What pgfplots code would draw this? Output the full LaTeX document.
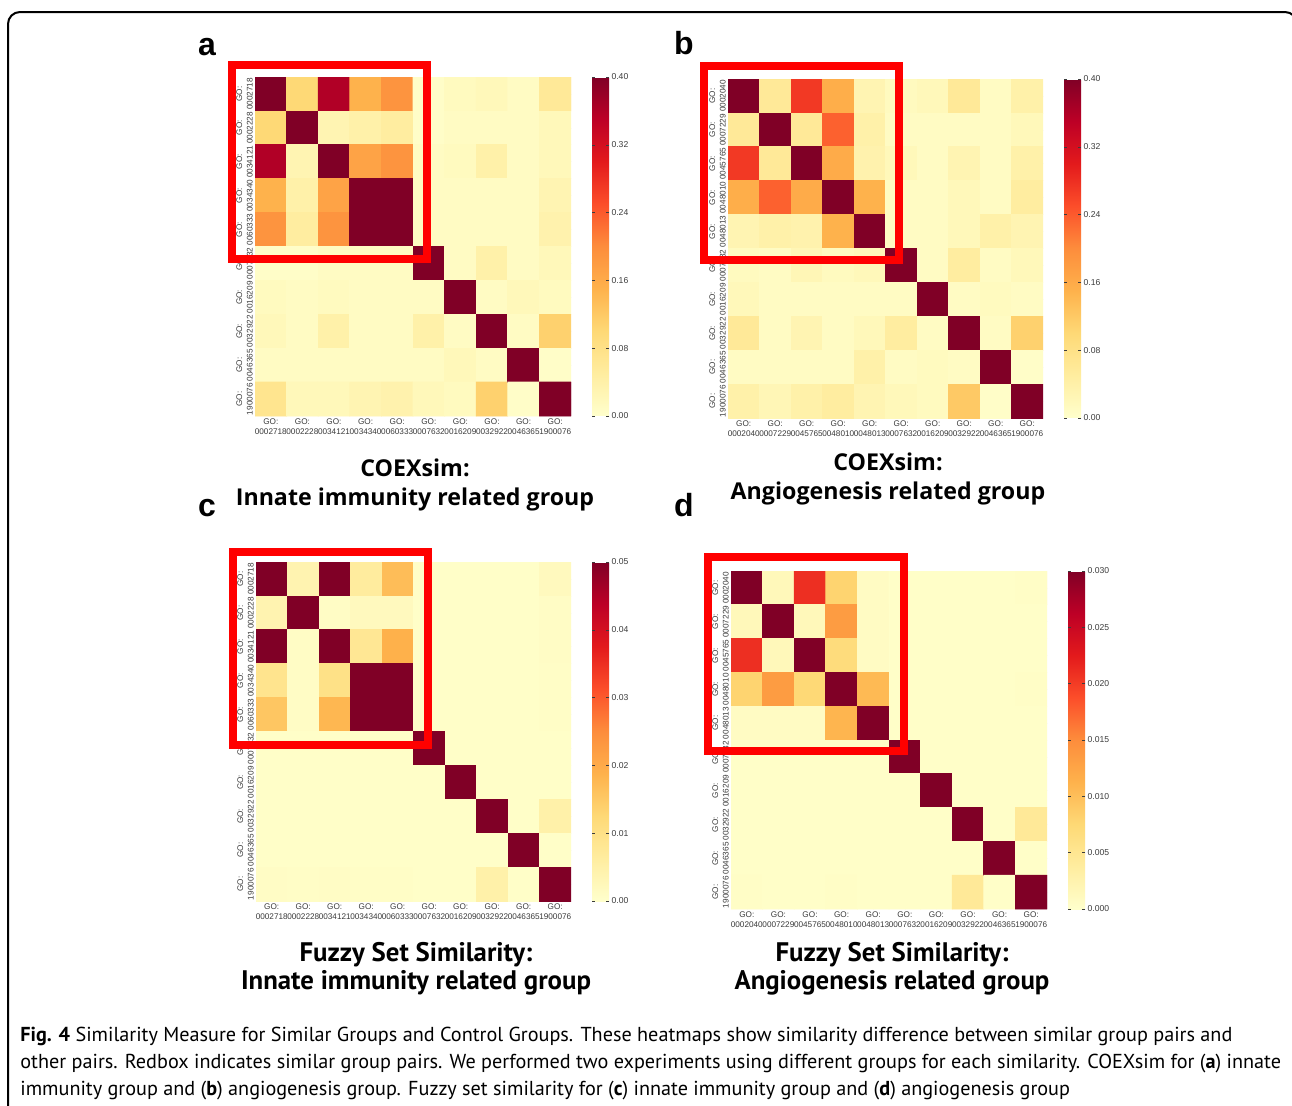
\documentclass[border=0pt]{standalone}
\usepackage{pgfplots}
\pgfplotsset{compat=1.18}
\usepackage{pgfplotstable}
\usepackage{fontspec}
\setmainfont{PT Sans}
\newfontfamily\titlefont{Open Sans}
\newfontfamily\tickfont{Liberation Sans}
\definecolor{tickgray}{RGB}{60,60,60}
\definecolor{boxred}{RGB}{255,0,0}

\pgfplotsset{
  colormap={ylorrd}{rgb255=(255,255,204) rgb255=(255,237,160) rgb255=(254,217,118) rgb255=(254,178,76) rgb255=(253,141,60) rgb255=(252,78,42) rgb255=(227,26,28) rgb255=(189,0,38) rgb255=(128,0,38)},
  heat/.style={
    scale only axis, width=158pt, height=169.5pt,
    xmin=-0.5, xmax=9.5, ymin=-0.5, ymax=9.5, y dir=reverse,
    axis line style={draw=none},
    xtick={0,...,9}, ytick={0,...,9},
    tick style={draw=tickgray, line width=0.3pt}, major tick length=1.5pt,
    xticklabel style={font=\tickfont\fontsize{4.1}{5.2}\selectfont, text=tickgray, align=center, inner sep=1pt},
    yticklabel style={font=\tickfont\fontsize{4.1}{5.2}\selectfont, text=tickgray, rotate=90, anchor=south, align=center, inner sep=1pt},
    colormap name=ylorrd,
    colorbar,
    colorbar shift/.style={xshift=9.5pt},
    colorbar style={width=8.5pt, axis line style={draw=none}, scaled y ticks=false,
      tick style={draw=tickgray, line width=0.3pt}, major tick length=1.5pt,
      yticklabel style={font=\tickfont\fontsize{4.3}{5}\selectfont, text=tickgray, inner sep=1pt,
        /pgf/number format/fixed, /pgf/number format/fixed zerofill, /pgf/number format/assume math mode=true}},
    point meta min=0,
  },
  innate/.style={xticklabels={{GO:\\0002718},{GO:\\0002228},{GO:\\0034121},{GO:\\0034340},{GO:\\0060333},{GO:\\0007632},{GO:\\0016209},{GO:\\0032922},{GO:\\0046365},{GO:\\1900076}},
    yticklabels={{GO:\\0002718},{GO:\\0002228},{GO:\\0034121},{GO:\\0034340},{GO:\\0060333},{GO:\\0007632},{GO:\\0016209},{GO:\\0032922},{GO:\\0046365},{GO:\\1900076}}},
  angio/.style={xticklabels={{GO:\\0002040},{GO:\\0007229},{GO:\\0045765},{GO:\\0048010},{GO:\\0048013},{GO:\\0007632},{GO:\\0016209},{GO:\\0032922},{GO:\\0046365},{GO:\\1900076}},
    yticklabels={{GO:\\0002040},{GO:\\0007229},{GO:\\0045765},{GO:\\0048010},{GO:\\0048013},{GO:\\0007632},{GO:\\0016209},{GO:\\0032922},{GO:\\0046365},{GO:\\1900076}}},
}

% panel a: COEXsim, innate immunity
\pgfplotstableread[row sep=\\]{
x y c \\
0 0 0.40 \\ 1 0 0.10 \\ 2 0 0.36 \\ 3 0 0.15 \\ 4 0 0.19 \\ 5 0 0.005 \\ 6 0 0.015 \\ 7 0 0.02 \\ 8 0 0.01 \\ 9 0 0.06 \\
0 1 0.10 \\ 1 1 0.40 \\ 2 1 0.03 \\ 3 1 0.04 \\ 4 1 0.05 \\ 5 1 0.005 \\ 6 1 0.01 \\ 7 1 0.01 \\ 8 1 0.01 \\ 9 1 0.02 \\
0 2 0.36 \\ 1 2 0.03 \\ 2 2 0.40 \\ 3 2 0.17 \\ 4 2 0.19 \\ 5 2 0.01 \\ 6 2 0.015 \\ 7 2 0.04 \\ 8 2 0.01 \\ 9 2 0.02 \\
0 3 0.15 \\ 1 3 0.04 \\ 2 3 0.17 \\ 3 3 0.40 \\ 4 3 0.40 \\ 5 3 0.01 \\ 6 3 0.01 \\ 7 3 0.01 \\ 8 3 0.01 \\ 9 3 0.03 \\
0 4 0.19 \\ 1 4 0.05 \\ 2 4 0.19 \\ 3 4 0.40 \\ 4 4 0.40 \\ 5 4 0.01 \\ 6 4 0.01 \\ 7 4 0.01 \\ 8 4 0.01 \\ 9 4 0.035 \\
0 5 0.005 \\ 1 5 0.005 \\ 2 5 0.01 \\ 3 5 0.01 \\ 4 5 0.01 \\ 5 5 0.40 \\ 6 5 0.01 \\ 7 5 0.04 \\ 8 5 0.01 \\ 9 5 0.02 \\
0 6 0.015 \\ 1 6 0.01 \\ 2 6 0.015 \\ 3 6 0.01 \\ 4 6 0.01 \\ 5 6 0.01 \\ 6 6 0.40 \\ 7 6 0.01 \\ 8 6 0.02 \\ 9 6 0.015 \\
0 7 0.02 \\ 1 7 0.01 \\ 2 7 0.04 \\ 3 7 0.01 \\ 4 7 0.01 \\ 5 7 0.04 \\ 6 7 0.01 \\ 7 7 0.40 \\ 8 7 0.01 \\ 9 7 0.11 \\
0 8 0.01 \\ 1 8 0.01 \\ 2 8 0.01 \\ 3 8 0.01 \\ 4 8 0.01 \\ 5 8 0.01 \\ 6 8 0.02 \\ 7 8 0.01 \\ 8 8 0.40 \\ 9 8 0.005 \\
0 9 0.07 \\ 1 9 0.02 \\ 2 9 0.02 \\ 3 9 0.03 \\ 4 9 0.035 \\ 5 9 0.02 \\ 6 9 0.015 \\ 7 9 0.11 \\ 8 9 0.005 \\ 9 9 0.40 \\
}\tA

% panel b: COEXsim, angiogenesis
\pgfplotstableread[row sep=\\]{
x y c \\
0 0 0.40 \\ 1 0 0.06 \\ 2 0 0.27 \\ 3 0 0.155 \\ 4 0 0.03 \\ 5 0 0.015 \\ 6 0 0.02 \\ 7 0 0.06 \\ 8 0 0.01 \\ 9 0 0.04 \\
0 1 0.06 \\ 1 1 0.40 \\ 2 1 0.06 \\ 3 1 0.235 \\ 4 1 0.04 \\ 5 1 0.01 \\ 6 1 0.01 \\ 7 1 0.01 \\ 8 1 0.01 \\ 9 1 0.02 \\
0 2 0.27 \\ 1 2 0.06 \\ 2 2 0.40 \\ 3 2 0.16 \\ 4 2 0.035 \\ 5 2 0.02 \\ 6 2 0.01 \\ 7 2 0.03 \\ 8 2 0.01 \\ 9 2 0.04 \\
0 3 0.155 \\ 1 3 0.235 \\ 2 3 0.16 \\ 3 3 0.40 \\ 4 3 0.15 \\ 5 3 0.01 \\ 6 3 0.01 \\ 7 3 0.02 \\ 8 3 0.01 \\ 9 3 0.05 \\
0 4 0.03 \\ 1 4 0.04 \\ 2 4 0.035 \\ 3 4 0.15 \\ 4 4 0.40 \\ 5 4 0.01 \\ 6 4 0.01 \\ 7 4 0.02 \\ 8 4 0.04 \\ 9 4 0.03 \\
0 5 0.015 \\ 1 5 0.01 \\ 2 5 0.025 \\ 3 5 0.015 \\ 4 5 0.02 \\ 5 5 0.40 \\ 6 5 0.01 \\ 7 5 0.05 \\ 8 5 0.01 \\ 9 5 0.02 \\
0 6 0.02 \\ 1 6 0.01 \\ 2 6 0.01 \\ 3 6 0.01 \\ 4 6 0.01 \\ 5 6 0.01 \\ 6 6 0.40 \\ 7 6 0.01 \\ 8 6 0.015 \\ 9 6 0.01 \\
0 7 0.06 \\ 1 7 0.01 \\ 2 7 0.03 \\ 3 7 0.01 \\ 4 7 0.02 \\ 5 7 0.05 \\ 6 7 0.01 \\ 7 7 0.40 \\ 8 7 0.01 \\ 9 7 0.11 \\
0 8 0.01 \\ 1 8 0.01 \\ 2 8 0.01 \\ 3 8 0.01 \\ 4 8 0.04 \\ 5 8 0.01 \\ 6 8 0.015 \\ 7 8 0.01 \\ 8 8 0.40 \\ 9 8 0.005 \\
0 9 0.04 \\ 1 9 0.025 \\ 2 9 0.04 \\ 3 9 0.05 \\ 4 9 0.03 \\ 5 9 0.02 \\ 6 9 0.015 \\ 7 9 0.12 \\ 8 9 0.005 \\ 9 9 0.40 \\
}\tB

% panel c: fuzzy set, innate immunity
\pgfplotstableread[row sep=\\]{
x y c \\
0 0 0.05 \\ 1 0 0.004 \\ 2 0 0.05 \\ 3 0 0.0065 \\ 4 0 0.017 \\ 5 0 0.0005 \\ 6 0 0.0005 \\ 7 0 0.0005 \\ 8 0 0.0005 \\ 9 0 0.002 \\
0 1 0.004 \\ 1 1 0.05 \\ 2 1 0.001 \\ 3 1 0.002 \\ 4 1 0.002 \\ 5 1 0.0005 \\ 6 1 0.0005 \\ 7 1 0.0005 \\ 8 1 0.0005 \\ 9 1 0.001 \\
0 2 0.05 \\ 1 2 0.001 \\ 2 2 0.05 \\ 3 2 0.008 \\ 4 2 0.019 \\ 5 2 0.0005 \\ 6 2 0.0005 \\ 7 2 0.0005 \\ 8 2 0.0005 \\ 9 2 0.001 \\
0 3 0.009 \\ 1 3 0.001 \\ 2 3 0.01 \\ 3 3 0.05 \\ 4 3 0.05 \\ 5 3 0.0005 \\ 6 3 0.0005 \\ 7 3 0.0005 \\ 8 3 0.0005 \\ 9 3 0.0008 \\
0 4 0.0155 \\ 1 4 0.001 \\ 2 4 0.018 \\ 3 4 0.05 \\ 4 4 0.05 \\ 5 4 0.0005 \\ 6 4 0.0005 \\ 7 4 0.0005 \\ 8 4 0.0005 \\ 9 4 0.0008 \\
0 5 0.0005 \\ 1 5 0.0005 \\ 2 5 0.0005 \\ 3 5 0.0005 \\ 4 5 0.0005 \\ 5 5 0.05 \\ 6 5 0.0005 \\ 7 5 0.0005 \\ 8 5 0.0005 \\ 9 5 0.0005 \\
0 6 0.0005 \\ 1 6 0.0005 \\ 2 6 0.0005 \\ 3 6 0.0005 \\ 4 6 0.0005 \\ 5 6 0.0005 \\ 6 6 0.05 \\ 7 6 0.0005 \\ 8 6 0.0005 \\ 9 6 0.0005 \\
0 7 0.0005 \\ 1 7 0.0005 \\ 2 7 0.0005 \\ 3 7 0.0005 \\ 4 7 0.0005 \\ 5 7 0.0005 \\ 6 7 0.0005 \\ 7 7 0.05 \\ 8 7 0.0005 \\ 9 7 0.005 \\
0 8 0.0005 \\ 1 8 0.0005 \\ 2 8 0.0005 \\ 3 8 0.0005 \\ 4 8 0.0005 \\ 5 8 0.0005 \\ 6 8 0.0005 \\ 7 8 0.0005 \\ 8 8 0.05 \\ 9 8 0.0005 \\
0 9 0.001 \\ 1 9 0.0008 \\ 2 9 0.001 \\ 3 9 0.0008 \\ 4 9 0.0008 \\ 5 9 0.0005 \\ 6 9 0.0005 \\ 7 9 0.005 \\ 8 9 0.0005 \\ 9 9 0.05 \\
}\tC

% panel d: fuzzy set, angiogenesis
\pgfplotstableread[row sep=\\]{
x y c \\
0 0 0.03 \\ 1 0 0.0015 \\ 2 0 0.021 \\ 3 0 0.008 \\ 4 0 0.0008 \\ 5 0 0.0003 \\ 6 0 0.0003 \\ 7 0 0.0003 \\ 8 0 0.0003 \\ 9 0 0.0005 \\
0 1 0.0015 \\ 1 1 0.03 \\ 2 1 0.0015 \\ 3 1 0.0135 \\ 4 1 0.0008 \\ 5 1 0.0003 \\ 6 1 0.0003 \\ 7 1 0.0003 \\ 8 1 0.0003 \\ 9 1 0.0003 \\
0 2 0.021 \\ 1 2 0.0015 \\ 2 2 0.03 \\ 3 2 0.007 \\ 4 2 0.0008 \\ 5 2 0.0003 \\ 6 2 0.0003 \\ 7 2 0.0003 \\ 8 2 0.0003 \\ 9 2 0.0003 \\
0 3 0.008 \\ 1 3 0.0135 \\ 2 3 0.0075 \\ 3 3 0.03 \\ 4 3 0.0105 \\ 5 3 0.0003 \\ 6 3 0.0003 \\ 7 3 0.0003 \\ 8 3 0.0003 \\ 9 3 0.0005 \\
0 4 0.0008 \\ 1 4 0.0008 \\ 2 4 0.0008 \\ 3 4 0.011 \\ 4 4 0.03 \\ 5 4 0.0003 \\ 6 4 0.0003 \\ 7 4 0.0003 \\ 8 4 0.0003 \\ 9 4 0.0003 \\
0 5 0.0003 \\ 1 5 0.0003 \\ 2 5 0.0003 \\ 3 5 0.0003 \\ 4 5 0.0003 \\ 5 5 0.03 \\ 6 5 0.0003 \\ 7 5 0.0003 \\ 8 5 0.0003 \\ 9 5 0.0003 \\
0 6 0.0003 \\ 1 6 0.0003 \\ 2 6 0.0003 \\ 3 6 0.0003 \\ 4 6 0.0003 \\ 5 6 0.0003 \\ 6 6 0.03 \\ 7 6 0.0003 \\ 8 6 0.0003 \\ 9 6 0.0003 \\
0 7 0.0003 \\ 1 7 0.0003 \\ 2 7 0.0003 \\ 3 7 0.0003 \\ 4 7 0.0003 \\ 5 7 0.0003 \\ 6 7 0.0003 \\ 7 7 0.03 \\ 8 7 0.0003 \\ 9 7 0.0045 \\
0 8 0.0003 \\ 1 8 0.0003 \\ 2 8 0.0003 \\ 3 8 0.0003 \\ 4 8 0.0003 \\ 5 8 0.0003 \\ 6 8 0.0003 \\ 7 8 0.0003 \\ 8 8 0.03 \\ 9 8 0.0003 \\
0 9 0.0005 \\ 1 9 0.0003 \\ 2 9 0.0003 \\ 3 9 0.0005 \\ 4 9 0.0003 \\ 5 9 0.0003 \\ 6 9 0.0003 \\ 7 9 0.0045 \\ 8 9 0.0003 \\ 9 9 0.03 \\
}\tD

\begin{document}
\begin{tikzpicture}[x=0.5pt,y=-0.5pt]
\useasboundingbox (0,0) rectangle (1292,1105);
\clip (0,0) rectangle (1292,1105);
\fill[white] (0,0) rectangle (1292,1105);
\draw[line width=1pt, rounded corners=6pt] (8,12) rectangle (1297,1140);

% panel a
\begin{axis}[heat, innate, at={(255*0.5pt,-77*0.5pt)}, anchor=north west,
  width=158pt, height=169.5pt, point meta max=0.40,
  colorbar style={ytick={0,0.08,0.16,0.24,0.32,0.40}, yticklabel style={/pgf/number format/precision=2}}]
\addplot[matrix plot*, mesh/cols=10, point meta=explicit] table[x=x,y=y,meta=c]{\tA};
\end{axis}
% panel b
\begin{axis}[heat, angio, at={(728*0.5pt,-79*0.5pt)}, anchor=north west,
  width=157.5pt, height=169.5pt, point meta max=0.40,
  colorbar style={ytick={0,0.08,0.16,0.24,0.32,0.40}, yticklabel style={/pgf/number format/precision=2}}]
\addplot[matrix plot*, mesh/cols=10, point meta=explicit] table[x=x,y=y,meta=c]{\tB};
\end{axis}
% panel c
\begin{axis}[heat, innate, at={(256*0.5pt,-562*0.5pt)}, anchor=north west,
  width=157.5pt, height=169.5pt, point meta max=0.05,
  colorbar style={ytick={0,0.01,0.02,0.03,0.04,0.05}, yticklabel style={/pgf/number format/precision=2}}]
\addplot[matrix plot*, mesh/cols=10, point meta=explicit] table[x=x,y=y,meta=c]{\tC};
\end{axis}
% panel d
\begin{axis}[heat, angio, at={(731*0.5pt,-571*0.5pt)}, anchor=north west,
  width=158pt, height=169pt, point meta max=0.03,
  colorbar style={ytick={0,0.005,0.01,0.015,0.02,0.025,0.03}, yticklabel style={/pgf/number format/precision=3}}]
\addplot[matrix plot*, mesh/cols=10, point meta=explicit] table[x=x,y=y,meta=c]{\tD};
\end{axis}

% red boxes
\draw[boxred, line width=4pt] (231.5,65) rectangle (426.5,258.5);
\draw[boxred, line width=4pt] (704,66) rectangle (898.5,260);
\draw[boxred, line width=4pt] (233,551.5) rectangle (427.5,745);
\draw[boxred, line width=4pt] (708,557) rectangle (903.5,751);

% panel letters
\begin{scope}[every node/.style={font=\tickfont\bfseries\fontsize{16}{16}\selectfont, anchor=base, inner sep=0pt}]
\node at (207,55) {a};
\node at (684,54) {b};
\node at (207,516) {c};
\node at (684,516) {d};
\end{scope}

% titles
\begin{scope}[every node/.style={font=\titlefont\bfseries\fontsize{11.6}{14.5}\selectfont, align=center, inner sep=0pt}]
\node at (415,485) {COEXsim:\\Innate immunity related group};
\node at (888,479) {COEXsim:\\Angiogenesis related group};
\end{scope}
\begin{scope}[every node/.style={font=\bfseries\fontsize{13.4}{14}\selectfont, align=center, inner sep=0pt}]
\node at (416,969) {Fuzzy Set Similarity:\\Innate immunity related group};
\node at (892,969) {Fuzzy Set Similarity:\\Angiogenesis related group};
\end{scope}

% caption
\begin{scope}[every node/.style={font=\fontsize{10.1}{13.5}\selectfont, anchor=base west, inner sep=0pt}]
\node at (20,1041) {\textbf{Fig. 4} Similarity Measure for Similar Groups and Control Groups. These heatmaps show similarity difference between similar group pairs and};
\node at (20,1068) {other pairs. Redbox indicates similar group pairs. We performed two experiments using different groups for each similarity. COEXsim for (\textbf{a}) innate};
\node at (20,1095) {immunity group and (\textbf{b}) angiogenesis group. Fuzzy set similarity for (\textbf{c}) innate immunity group and (\textbf{d}) angiogenesis group};
\end{scope}
\end{tikzpicture}
\end{document}
